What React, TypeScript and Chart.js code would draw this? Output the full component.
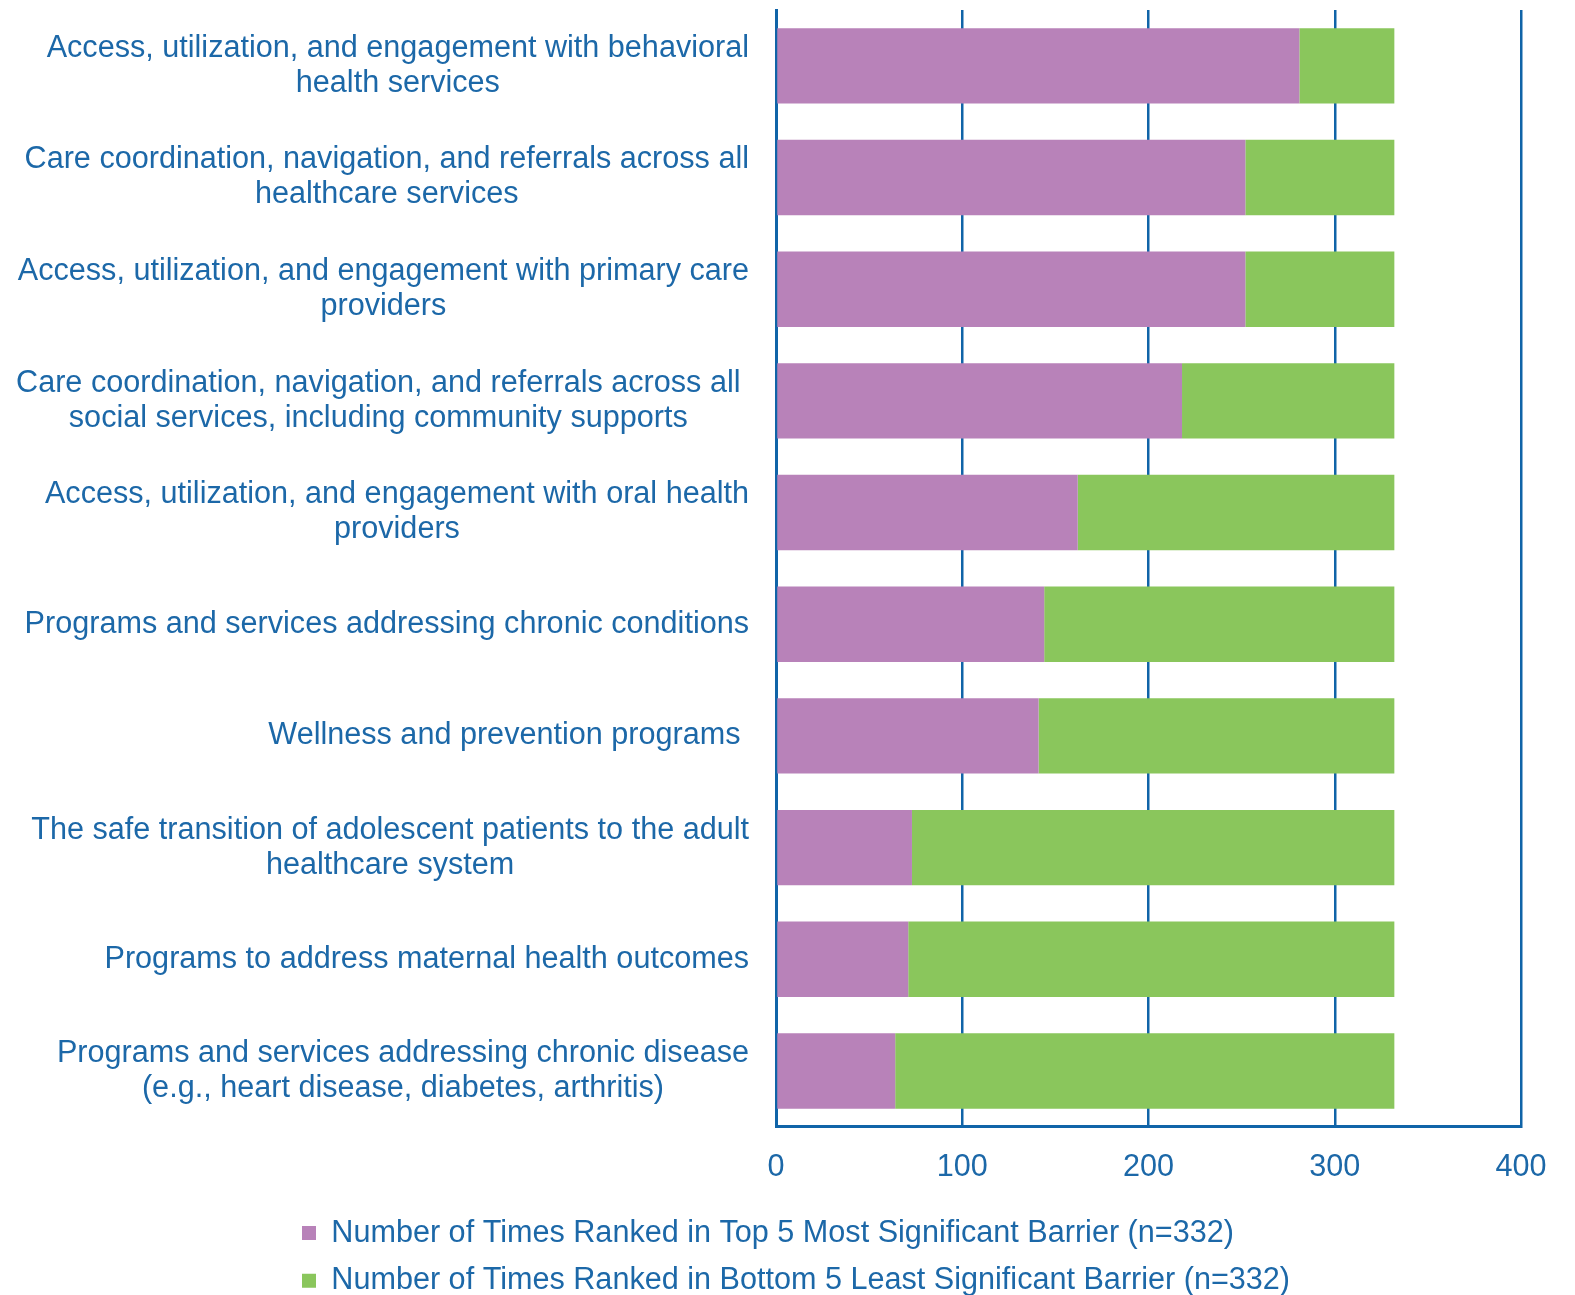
import React, { useEffect, useRef } from "react";
import { Chart, registerables } from "chart.js";

Chart.register(...registerables);

const categories: (string | string[])[] = [
  ["Access, utilization, and engagement with behavioral", "health services"],
  ["Care coordination, navigation, and referrals across all", "healthcare services"],
  ["Access, utilization, and engagement with primary care", "providers"],
  ["Care coordination, navigation, and referrals across all ", "social services, including community supports"],
  ["Access, utilization, and engagement with oral health", "providers"],
  "Programs and services addressing chronic conditions",
  "Wellness and prevention programs ",
  ["The safe transition of adolescent patients to the adult", "healthcare system"],
  "Programs to address maternal health outcomes",
  ["Programs and services addressing chronic disease", "(e.g., heart disease, diabetes, arthritis)"],
];

const topFiveCounts = [281, 252, 252, 218, 162, 144, 141, 73, 71, 64];
const bottomFiveCounts = [51, 80, 80, 114, 170, 188, 191, 259, 261, 268];

const seriesNames = [
  "Number of Times Ranked in Top 5 Most Significant Barrier (n=332)",
  "Number of Times Ranked in Bottom 5 Least Significant Barrier (n=332)",
];

const xTicks = [0, 100, 200, 300, 400];

const FONT = "'Liberation Sans', Arial, sans-serif";
const FONT_SIZE = 30.6;
const TEXT_COLOR = "#1C68A8";
const LINE_COLOR = "#1064A8";
const PURPLE = "#B882B9";
const GREEN = "#8AC65C";
const LINE_H = 35;
const LABEL_GAP = 27;
const LEGEND_BOX_X = 302;
const LEGEND_PAD = 17;

const yLabelPlugin = {
  id: "yLabelsCentered",
  afterDraw(chart: any) {
    const ctx = chart.ctx as CanvasRenderingContext2D;
    const yScale = chart.scales.y;
    ctx.save();
    ctx.font = `${FONT_SIZE}px ${FONT}`;
    ctx.fillStyle = TEXT_COLOR;
    ctx.textBaseline = "middle";
    ctx.textAlign = "center";
    const right = chart.chartArea.left - LABEL_GAP;
    (chart.data.labels as (string | string[])[]).forEach((lab, i) => {
      const lines = Array.isArray(lab) ? lab : [lab];
      const full = lines.map((l) => ctx.measureText(l).width);
      const trimmed = lines.map((l) => ctx.measureText(l.trimEnd()).width);
      const blockLeft = right - Math.max(...full);
      const center = blockLeft + Math.max(...trimmed) / 2;
      const cy = yScale.getPixelForValue(i);
      const startY = cy - ((lines.length - 1) * LINE_H) / 2;
      lines.forEach((l, k) => ctx.fillText(l.trimEnd(), center, startY + k * LINE_H));
    });
    ctx.restore();
  },
};

const legendShiftPlugin = {
  id: "legendShift",
  afterLayout(chart: any) {
    if (chart.legend) {
      chart.legend.left = LEGEND_BOX_X - LEGEND_PAD;
    }
  },
};

export default function App() {
  const ref = useRef<HTMLCanvasElement | null>(null);

  useEffect(() => {
    if (!ref.current) return;
    const chart = new Chart(ref.current, {
      type: "bar",
      data: {
        labels: categories as any,
        datasets: [
          {
            label: seriesNames[0],
            data: topFiveCounts,
            backgroundColor: PURPLE,
            borderWidth: 0,
            barPercentage: 0.675,
            categoryPercentage: 1,
          },
          {
            label: seriesNames[1],
            data: bottomFiveCounts,
            backgroundColor: GREEN,
            borderWidth: 0,
            barPercentage: 0.675,
            categoryPercentage: 1,
          },
        ],
      },
      options: {
        indexAxis: "y",
        responsive: false,
        animation: false,
        layout: { padding: { left: 0, right: 54, top: 10, bottom: 0 } },
        scales: {
          x: {
            stacked: true,
            min: 0,
            max: 400,
            afterBuildTicks: (s: any) => {
              s.ticks = xTicks.map((v) => ({ value: v }));
            },
            afterFit: (s: any) => {
              s.height = 74;
            },
            grid: {
              color: LINE_COLOR,
              lineWidth: 2.5,
              drawTicks: false,
            },
            border: { display: true, color: LINE_COLOR, width: 3 },
            ticks: {
              color: TEXT_COLOR,
              padding: 22,
              font: { family: FONT, size: FONT_SIZE },
            },
          },
          y: {
            stacked: true,
            afterFit: (s: any) => {
              s.width = 776;
            },
            grid: { display: false },
            border: { display: true, color: LINE_COLOR, width: 3 },
            ticks: { display: false },
          },
        },
        plugins: {
          legend: {
            position: "bottom",
            align: "start",
            labels: {
              color: TEXT_COLOR,
              boxWidth: 14,
              boxHeight: 14,
              padding: LEGEND_PAD,
              font: { family: FONT, size: FONT_SIZE },
            },
          },
          tooltip: { enabled: false },
        },
      },
      plugins: [yLabelPlugin, legendShiftPlugin],
    });
    return () => chart.destroy();
  }, []);

  return (
    <div
      style={{
        position: "fixed",
        left: 0,
        top: 0,
        width: 1575,
        height: 1295,
        overflow: "hidden",
        background: "#fff",
      }}
    >
      <canvas ref={ref} width={1575} height={1306} style={{ display: "block" }} />
    </div>
  );
}
